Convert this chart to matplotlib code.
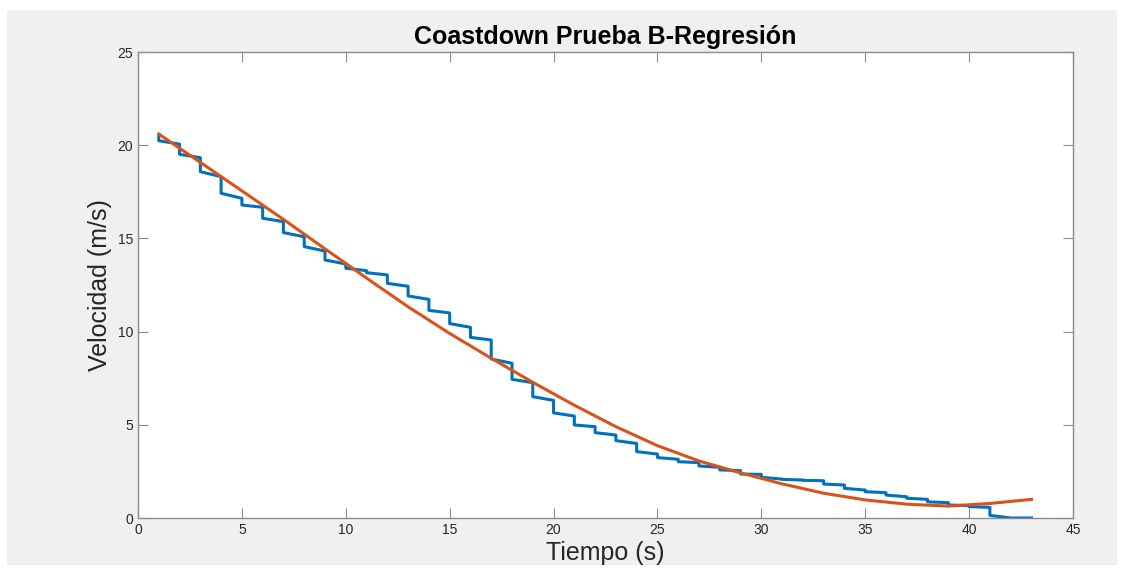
import numpy as np
import matplotlib
matplotlib.use("Agg")
import matplotlib.pyplot as plt
from matplotlib.patches import Rectangle

plt.rcParams['font.family'] = ['Liberation Sans', 'DejaVu Sans']

# datos medidos: cada segundo la velocidad cae y luego baja un poco
t_ini = 1.0
v_ini = 20.55
t_pasos = list(range(1, 43))
v_inicio = [20.24, 19.51, 18.58, 17.42, 16.79, 16.08, 15.31, 14.56, 13.84, 13.40,
            13.16, 12.59, 11.91, 11.14, 10.43, 9.69, 8.53, 7.44, 6.51, 5.64,
            4.99, 4.58, 4.15, 3.56, 3.24, 3.02, 2.79, 2.58, 2.36, 2.18,
            2.07, 2.02, 1.82, 1.59, 1.41, 1.23, 1.06, 0.87, 0.70, 0.61,
            0.14, 0.00]
v_fin = [20.06, 19.33, 18.31, 17.15, 16.67, 15.90, 15.09, 14.32, 13.63, 13.27,
         13.04, 12.43, 11.73, 11.00, 10.23, 9.55, 8.30, 7.26, 6.31, 5.47,
         4.90, 4.45, 4.00, 3.43, 3.15, 2.97, 2.72, 2.54, 2.34, 2.09,
         2.04, 2.00, 1.77, 1.50, 1.36, 1.14, 1.00, 0.82, 0.66, 0.57,
         0.00, 0.00]

# curva de regresion
t_reg = [1, 3, 5, 7, 9, 11, 13, 15, 17, 19, 21, 23, 25, 27, 29, 31, 33, 35, 37, 39, 41, 43]
v_reg = [20.6, 19.08, 17.55, 16.02, 14.44, 12.87, 11.33, 9.9, 8.57, 7.28, 6.05,
         4.9, 3.88, 3.06, 2.42, 1.83, 1.33, 0.97, 0.74, 0.64, 0.78, 1.0]

x_ticks = list(range(0, 50, 5))
y_ticks = list(range(0, 30, 5))

# armar la escalera
tx = [t_ini]
vy = [v_ini]
for k, a, b in zip(t_pasos, v_inicio, v_fin):
    tx += [k, k + 1]
    vy += [a, b]

fig = plt.figure(figsize=(11.23, 5.73), dpi=100, facecolor='white')
fig.patches.append(Rectangle((7 / 1123, 8 / 573), 1110 / 1123, 555 / 573,
                             transform=fig.transFigure, facecolor='#f0f0f0',
                             edgecolor='none', zorder=-10))

ax = fig.add_axes([138 / 1123, 1 - 518 / 573, 935 / 1123, 466 / 573])
ax.set_facecolor('white')
ax.plot(tx, vy, color='#0072BD', lw=2.2)
ax.plot(t_reg, v_reg, color='#D95319', lw=2.2)

ax.set_xlim(0, 45)
ax.set_ylim(0, 25)
ax.set_xticks(x_ticks)
ax.set_yticks(y_ticks)
ax.tick_params(direction='in', length=7, width=0.8, color='#8c8c8c',
               labelsize=10, labelcolor='#262626', top=True, right=True)
for s in ax.spines.values():
    s.set_color('#8c8c8c')
    s.set_linewidth(1)

ax.set_title('Coastdown Prueba B-Regresión', fontsize=18, fontweight='bold',
             color='black', pad=6)
ax.set_xlabel('Tiempo (s)', fontsize=18, color='#262626', labelpad=3)
ax.set_ylabel('Velocidad (m/s)', fontsize=18, color='#262626', labelpad=4)

fig.savefig('out.png', dpi=100, facecolor='white')
